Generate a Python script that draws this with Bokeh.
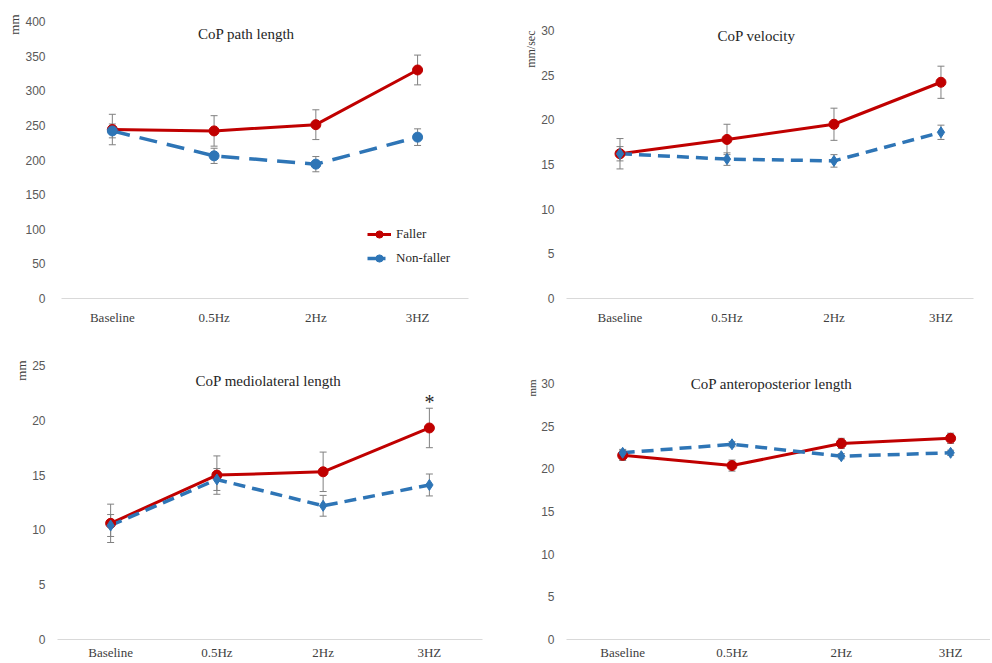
from bokeh.plotting import figure
from bokeh.layouts import column, row
from bokeh.models import (Range1d, FixedTicker, Label, Legend, LegendItem,
                          Whisker, TeeHead, ColumnDataSource, Title)
from bokeh.core.properties import value
from bokeh.embed import file_html
from bokeh.resources import INLINE

# ---------------- data ----------------
categories = ["Baseline", "0.5Hz", "2Hz", "3HZ"]

# CoP path length (mm)
path_faller = [244, 242, 251, 330]
path_faller_err = [22, 22, 21.5, 21.5]
path_nonfaller = [242, 206, 194, 233]
path_nonfaller_err = [10, 11, 11, 12]
path_yticks = [0, 50, 100, 150, 200, 250, 300, 350, 400]

# CoP velocity (mm/sec)
vel_faller = [16.2, 17.8, 19.5, 24.2]
vel_faller_err = [1.7, 1.7, 1.8, 1.8]
vel_nonfaller = [16.2, 15.6, 15.4, 18.6]
vel_nonfaller_err = [0.8, 0.7, 0.7, 0.8]
vel_yticks = [0, 5, 10, 15, 20, 25, 30]

# CoP mediolateral length (mm)
ml_faller = [10.6, 15.0, 15.3, 19.3]
ml_faller_err = [1.75, 1.75, 1.8, 1.8]
ml_nonfaller = [10.4, 14.6, 12.2, 14.1]
ml_nonfaller_err = [1.0, 1.0, 0.95, 1.0]
ml_yticks = [0, 5, 10, 15, 20, 25]
ml_significant = [False, False, False, True]

# CoP anteroposterior length (mm)
ap_faller = [21.6, 20.4, 23.0, 23.6]
ap_faller_err = [0.6, 0.65, 0.6, 0.6]
ap_nonfaller = [21.9, 22.9, 21.5, 21.9]
ap_nonfaller_err = [0.4, 0.3, 0.3, 0.3]
ap_yticks = [0, 5, 10, 15, 20, 25, 30]

RED = "#C00000"
BLUE = "#2E75B6"
SERIF = "Liberation Serif"
SANS = "Liberation Sans"


def make_panel(title, unit, faller, ferr, nonf, nerr, yticks, width, height,
               borders, x_rng, y_end, axis_bounds, title_pos, unit_offset,
               unit_size, dash, nf_marker, label_standoff, legend=False,
               stars=None):
    left, right, top, bottom = borders
    p = figure(width=width, height=height, output_backend="svg",
               toolbar_location=None,
               x_range=Range1d(*x_rng),
               y_range=Range1d(yticks[0], y_end),
               min_border_left=left, min_border_right=right,
               min_border_top=top, min_border_bottom=bottom)
    p.outline_line_color = None
    p.xgrid.visible = False
    p.ygrid.visible = False

    xs = list(range(len(categories)))
    src = ColumnDataSource(dict(
        x=xs, f=faller, fu=[a + b for a, b in zip(faller, ferr)],
        fl=[a - b for a, b in zip(faller, ferr)],
        n=nonf, nu=[a + b for a, b in zip(nonf, nerr)],
        nl=[a - b for a, b in zip(nonf, nerr)]))

    # x axis
    p.xaxis.ticker = FixedTicker(ticks=xs)
    p.xaxis.major_label_overrides = {i: c for i, c in enumerate(categories)}
    p.xaxis.axis_line_color = "#d9d9d9"
    p.xaxis.axis_line_width = 1
    if axis_bounds is not None:
        p.xaxis.bounds = axis_bounds
    p.xaxis.major_tick_line_color = None
    p.xaxis.minor_tick_line_color = None
    p.xaxis.major_tick_out = 0
    p.xaxis.major_tick_in = 0
    p.xaxis.minor_tick_out = 0
    p.xaxis.major_label_text_font = SERIF
    p.xaxis.major_label_text_font_size = "13px"
    p.xaxis.major_label_text_color = "#404040"
    p.xaxis.major_label_standoff = label_standoff

    # y axis
    p.yaxis.ticker = FixedTicker(ticks=yticks)
    p.yaxis.axis_line_color = None
    p.yaxis.major_tick_line_color = None
    p.yaxis.minor_tick_line_color = None
    p.yaxis.major_tick_out = 0
    p.yaxis.major_tick_in = 0
    p.yaxis.minor_tick_out = 0
    p.yaxis.major_label_text_font = SANS
    p.yaxis.major_label_text_font_size = "12px"
    p.yaxis.major_label_text_color = "#595959"
    p.yaxis.major_label_standoff = 12

    # error bars
    for up, lo in (("fu", "fl"), ("nu", "nl")):
        w = Whisker(source=src, base="x", upper=up, lower=lo,
                    line_color="#808080", line_width=1,
                    upper_head=TeeHead(size=7, line_color="#808080", line_width=1),
                    lower_head=TeeHead(size=7, line_color="#808080", line_width=1))
        p.add_layout(w)

    # lines and markers
    fl_line = p.line("x", "f", source=src, line_color=RED, line_width=3)
    nf_line = p.line("x", "n", source=src, line_color=BLUE, line_width=3.5,
                     line_dash=dash)
    fl_mark = p.scatter("x", "f", source=src, marker="circle", size=10,
                        fill_color=RED, line_color=RED)
    nf_mark = p.scatter("x", "n", source=src, marker=nf_marker,
                        size=11 if nf_marker == "diamond" else 10,
                        fill_color=BLUE, line_color=BLUE)

    # chart title inside the plot area
    p.add_layout(Label(x=title_pos[0], y=title_pos[1], text=title,
                       text_font=SERIF, text_font_size="15px",
                       text_color="#262626", text_align="center",
                       text_baseline="middle"))
    # unit label at the top of the value axis
    p.add_layout(Title(text=unit, align="right", offset=unit_offset,
                       standoff=2, text_font=SERIF, text_font_size=unit_size,
                       text_font_style="normal", text_color="#404040"),
                 "left")

    if stars is not None:
        sx = [x for x, s in zip(xs, stars) if s]
        sy = [src.data["fu"][x] for x in sx]
        p.text(x=sx, y=sy, text=["*"] * len(sx), text_font=value(SERIF),
               text_font_size="20px", text_color="#262626",
               text_align="center", text_baseline="middle", y_offset=-6)

    if legend:
        lg = Legend(items=[LegendItem(label="Faller", renderers=[fl_line, fl_mark]),
                           LegendItem(label="Non-faller", renderers=[nf_line, nf_mark])],
                    location=(310, 31), orientation="vertical",
                    glyph_width=24, glyph_height=18, label_height=18,
                    spacing=6, padding=0, margin=0, label_standoff=5,
                    border_line_color=None, background_fill_alpha=0,
                    label_text_font=SERIF, label_text_font_size="13px",
                    label_text_color="#262626")
        p.add_layout(lg)
    return p


# top row: frames span y 21..298; bottom row: y 365..640
# left column: frames span x 57..482; right column: x 566..990
p1 = make_panel("CoP  path length", "mm", path_faller, path_faller_err,
                path_nonfaller, path_nonfaller_err, path_yticks,
                496, 330, (57, 14, 21, 32), (-0.539, 3.638), 400,
                (-0.5, 3.5), (1.335, 382.6), -7, "13px", "18 10", "circle", 11,
                legend=True)
p2 = make_panel("CoP velocity", "mm/sec", vel_faller, vel_faller_err,
                vel_nonfaller, vel_nonfaller_err, vel_yticks,
                494, 330, (70, 0, 21, 32), (-0.5, 3.463), 31.0,
                (-0.5, 3.3), (1.276, 29.4), 9, "12px", "12 7", "diamond", 11)
p3 = make_panel("CoP mediolateral length", "mm", ml_faller, ml_faller_err,
                ml_nonfaller, ml_nonfaller_err, ml_yticks,
                496, 332, (57, 14, 35, 22), (-0.5, 3.5), 25,
                (-0.5, 3.5), (1.486, 23.6), -5, "13px", "12 7", "diamond", 5,
                stars=ml_significant)
p4 = make_panel("CoP anteroposterior length", "mm", ap_faller, ap_faller_err,
                ap_nonfaller, ap_nonfaller_err, ap_yticks,
                494, 332, (70, 0, 35, 22), (-0.514, 3.365), 32.14,
                None, (1.362, 30.0), 14, "11px", "12 7", "diamond", 5)

layout = column(row(p1, p2, spacing=0), row(p3, p4, spacing=0), spacing=0)
open("out.html", "w").write(file_html(layout, INLINE))
